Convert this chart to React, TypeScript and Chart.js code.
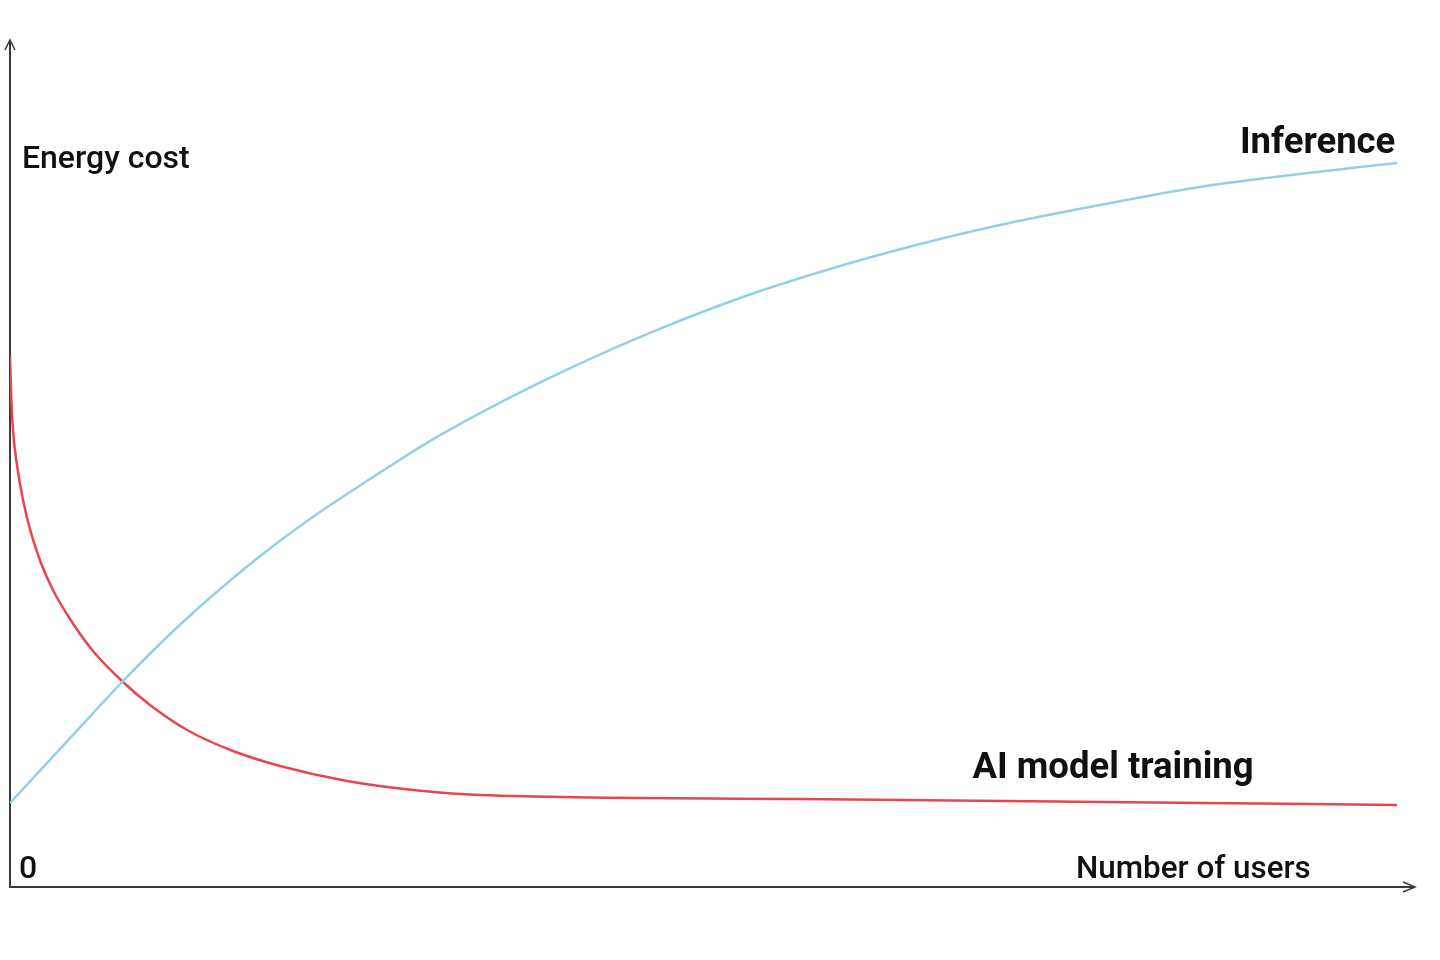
import React, { useEffect, useRef } from "react";
import { Chart, registerables } from "chart.js";

Chart.register(...registerables);

// Number of users (relative units, 0..100)
const inferenceX = [0, 4.98, 8.04, 12.31, 17.58, 21.35, 24.91, 29.89, 34.88, 40.21, 45.55, 51.96, 57.65, 64.77, 70.46, 77.58, 84.7, 91.81, 98.72];
// Energy cost (relative units, 0..100)
const inferenceY = [9.92, 18.84, 24.32, 31.29, 38.78, 43.45, 47.4, 52.65, 57.19, 61.53, 65.43, 69.54, 72.61, 75.91, 78.16, 80.52, 82.64, 84.18, 85.48];

const trainingX = [0, 0.071, 0.213, 0.498, 0.925, 1.495, 2.206, 3.06, 4.27, 5.907, 8.043, 9.964, 12.6, 15.87, 19.22, 23.99, 28.68, 33.45, 56.23, 77.58, 98.72];
const trainingY = [62.81, 58.68, 53.96, 49.82, 45.69, 41.8, 38.25, 35.06, 31.64, 27.86, 24.2, 21.49, 18.54, 16.06, 14.29, 12.51, 11.45, 10.86, 10.39, 10.04, 9.68];

const seriesNames = ["Inference", "AI model training"];
const axisLabels = { y: "Energy cost", x: "Number of users", origin: "0" };

const BLUE = "#93d0e8";
const RED = "#e8464f";
const AXIS = "#3a3a3a";
const FONT = "Roboto, 'Liberation Sans', sans-serif";

export default function App() {
  const ref = useRef<HTMLCanvasElement | null>(null);

  useEffect(() => {
    document.body.style.margin = "0";
    const canvas = ref.current!;
    const overlay = {
      id: "overlay",
      beforeDatasetsDraw(chart: any) {
        const { ctx, chartArea } = chart;
        const { left, right, top, bottom } = chartArea;
        ctx.save();
        ctx.strokeStyle = AXIS;
        ctx.lineWidth = 2;
        ctx.beginPath();
        ctx.moveTo(left, top);
        ctx.lineTo(left, bottom);
        ctx.lineTo(right, bottom);
        ctx.stroke();
        ctx.lineWidth = 1.5;
        ctx.beginPath();
        ctx.moveTo(left - 5, top + 10);
        ctx.lineTo(left, top);
        ctx.lineTo(left + 5, top + 10);
        ctx.moveTo(right - 12, bottom - 5);
        ctx.lineTo(right, bottom);
        ctx.lineTo(right - 12, bottom + 5);
        ctx.stroke();
        ctx.restore();
      },
      afterDatasetsDraw(chart: any) {
        const { ctx } = chart;
        const xs = chart.scales.x;
        const ys = chart.scales.y;
        const px = (v: number) => xs.getPixelForValue(v);
        const py = (v: number) => ys.getPixelForValue(v);
        ctx.save();
        ctx.fillStyle = "#111";
        ctx.textBaseline = "alphabetic";
        ctx.textAlign = "left";
        ctx.font = `500 32px ${FONT}`;
        ctx.fillText(axisLabels.y, px(0.85), py(84.9));
        ctx.fillText(axisLabels.origin, px(0.64), py(1.05));
        ctx.font = `500 31.4px ${FONT}`;
        ctx.fillText(axisLabels.x, px(75.87), py(1.05));
        ctx.font = `700 36.5px ${FONT}`;
        ctx.textAlign = "right";
        ctx.fillText(seriesNames[0], px(98.6), py(86.6));
        ctx.textAlign = "left";
        ctx.fillText(seriesNames[1], px(68.5), py(12.9));
        ctx.restore();
      },
    };

    const chart = new Chart(canvas, {
      type: "line",
      data: {
        datasets: [
          {
            label: seriesNames[0],
            data: inferenceX.map((x, i) => ({ x, y: inferenceY[i] })),
            borderColor: BLUE,
            borderWidth: 2.5,
            pointRadius: 0,
            cubicInterpolationMode: "monotone",
            fill: false,
          },
          {
            label: seriesNames[1],
            data: trainingX.map((x, i) => ({ x, y: trainingY[i] })),
            borderColor: RED,
            borderWidth: 2.5,
            pointRadius: 0,
            cubicInterpolationMode: "monotone",
            fill: false,
          },
        ],
      },
      options: {
        responsive: false,
        animation: false,
        layout: { padding: { left: 10, right: 25, top: 40, bottom: 73 } },
        plugins: { legend: { display: false }, tooltip: { enabled: false } },
        scales: {
          x: { type: "linear", min: 0, max: 100, display: false },
          y: { type: "linear", min: 0, max: 100, display: false },
        },
      },
      plugins: [overlay],
    });
    return () => chart.destroy();
  }, []);

  return (
    <div style={{ position: "absolute", left: 0, top: 0, width: 1440, height: 960, background: "#fff" }}>
      <canvas ref={ref} width={1440} height={960} />
    </div>
  );
}
